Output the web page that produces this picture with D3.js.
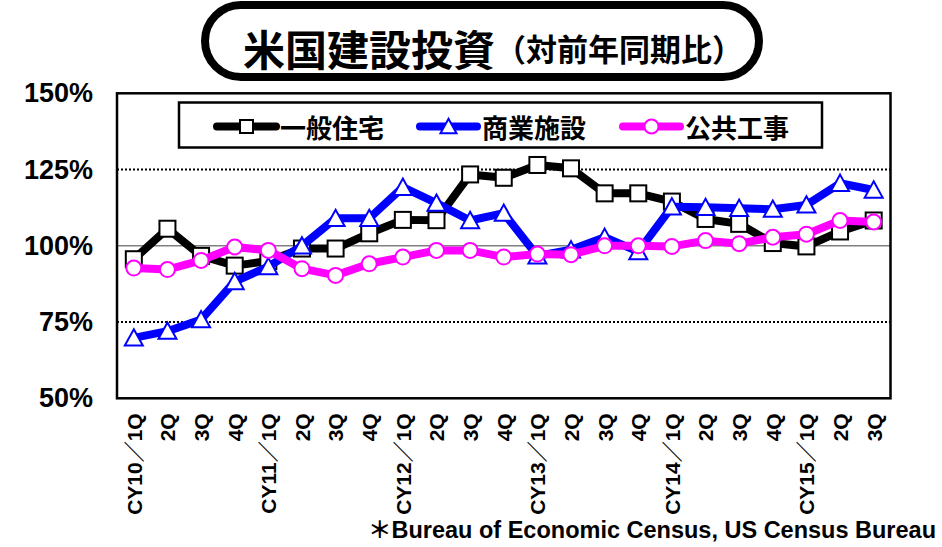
<!DOCTYPE html>
<html>
<head>
<meta charset="utf-8">
<script src="https://cdn.jsdelivr.net/npm/d3@7/dist/d3.min.js"></script>
<style>
  html, body { margin: 0; padding: 0; background: #fff; }
  svg { display: block; }
</style>
</head>
<body>
<svg id="chart" width="942" height="547"></svg>
<script>
// ---- data ----
const categories = ["CY10／1Q","2Q","3Q","4Q","CY11／1Q","2Q","3Q","4Q","CY12／1Q","2Q","3Q","4Q",
                    "CY13／1Q","2Q","3Q","4Q","CY14／1Q","2Q","3Q","4Q","CY15／1Q","2Q","3Q"];
const housing    = [95.6,105.6,96.7,93.5,95.0,99.1,99.1,104.1,108.5,108.4,123.4,122.3,
                    126.5,125.4,117.2,117.2,114.5,108.8,107.2,100.9,99.8,104.7,108.3];
const commercial = [69.8,72.0,75.8,88.3,93.2,100.0,109.0,109.0,119.2,114.0,108.3,110.7,
                    96.7,98.7,102.8,98.1,112.8,112.6,112.3,112.0,113.4,120.5,118.3];
const publicWorks= [92.7,92.2,95.2,99.6,98.5,92.5,90.3,94.1,96.3,98.5,98.5,96.3,
                    97.3,97.1,100.0,100.0,99.8,101.7,100.7,102.8,103.8,108.3,107.8];
const seriesNames = ["一般住宅","商業施設","公共工事"];
const yTicks = [50,75,100,125,150];
const titleMain = "米国建設投資";
const titleSub = "（対前年同期比）";
const footnote = "＊Bureau of Economic Census, US Census Bureau";

// ---- layout ----
const svg = d3.select("#chart");
const L = 117, R = 890.5, T = 93.3, B = 398.3;
const x = d3.scalePoint().domain(d3.range(categories.length)).range([L, R]).padding(0.5);
const y = d3.scaleLinear().domain([50,150]).range([B, T]);

const jp = "'Noto Sans CJK JP', 'Liberation Sans', sans-serif";
const lat = "'Liberation Sans', 'Noto Sans CJK JP', sans-serif";

// ---- title ----
svg.append("rect").attr("x",205).attr("y",5).attr("width",554).attr("height",72)
  .attr("rx",36).attr("ry",36).attr("fill","#fff").attr("stroke","#000").attr("stroke-width",8);
const tt = svg.append("text").attr("x",243).attr("y",47).attr("dominant-baseline","central")
  .attr("font-family", jp).attr("font-weight","bold").attr("fill","#000");
tt.append("tspan").attr("font-size",42).text(titleMain);
tt.append("tspan").attr("font-size",31).text(titleSub);

// ---- gridlines ----
svg.append("line").attr("x1",L).attr("x2",R).attr("y1",y(100)).attr("y2",y(100))
  .attr("stroke","#808080").attr("stroke-width",1.5);
[75,125].forEach(v => {
  svg.append("line").attr("x1",L).attr("x2",R).attr("y1",y(v)).attr("y2",y(v))
    .attr("stroke","#000").attr("stroke-width",2).attr("stroke-dasharray","2,2");
});

// ---- axes ----
const yAxis = svg.append("g").attr("transform",`translate(${L},0)`)
  .call(d3.axisLeft(y).tickValues(yTicks).tickFormat(d => d + "%").tickSize(0).tickPadding(24));
yAxis.select(".domain").remove();
yAxis.selectAll("text").attr("font-family", lat).attr("font-weight","bold")
  .attr("font-size",27).attr("fill","#000");

const xAxis = svg.append("g").attr("transform",`translate(0,${B})`)
  .call(d3.axisBottom(x).tickFormat(i => categories[i]).tickSize(0));
xAxis.select(".domain").remove();
xAxis.selectAll("text")
  .attr("font-family", lat).attr("font-weight","bold").attr("font-size",21).attr("fill","#000")
  .attr("transform","rotate(-90)").attr("text-anchor","end")
  .attr("x",-15).attr("y",0).attr("dy","0.35em");

// ---- frame ----
svg.append("rect").attr("x",L).attr("y",T).attr("width",R-L).attr("height",B-T)
  .attr("fill","none").attr("stroke","#000").attr("stroke-width",2.5);

// ---- series ----
const series = [
  {name: seriesNames[0], values: housing, color: "#000000", marker: "square"},
  {name: seriesNames[1], values: commercial, color: "#0000FF", marker: "triangle"},
  {name: seriesNames[2], values: publicWorks, color: "#FF00FF", marker: "circle"}
];
const line = d3.line().x((d,i) => x(i)).y(d => y(d));

function drawMarker(g, type, color, cx, cy, s) {
  if (type === "square") {
    g.append("rect").attr("x",cx - s/2).attr("y",cy - s/2).attr("width",s).attr("height",s)
      .attr("fill","#fff").attr("stroke",color).attr("stroke-width",2);
  } else if (type === "triangle") {
    const h = s * 0.9;
    g.append("path").attr("d",`M${cx},${cy - h/2 - 1} L${cx + s/2 + 0.5},${cy + h/2} L${cx - s/2 - 0.5},${cy + h/2} Z`)
      .attr("fill","#fff").attr("stroke",color).attr("stroke-width",2).attr("stroke-linejoin","miter");
  } else {
    g.append("circle").attr("cx",cx).attr("cy",cy).attr("r",s/2)
      .attr("fill","#fff").attr("stroke",color).attr("stroke-width",2);
  }
}

series.forEach(s => {
  const g = svg.append("g");
  g.append("path").datum(s.values).attr("d", line).attr("fill","none")
    .attr("stroke", s.color).attr("stroke-width", 8).attr("stroke-linejoin","round");
  s.values.forEach((v,i) => drawMarker(g, s.marker, s.color, x(i), y(v),
    s.marker === "square" ? 16 : (s.marker === "triangle" ? 17 : 15)));
});

// ---- legend ----
svg.append("rect").attr("x",179).attr("y",102.5).attr("width",643).attr("height",45)
  .attr("fill","#fff").attr("stroke","#000").attr("stroke-width",2.5);
const legendPos = [{x0:217, x1:276, tx:280}, {x0:420, x1:477, tx:482}, {x0:623, x1:680, tx:685}];
series.forEach((s,k) => {
  const p = legendPos[k], ly = 126.5;
  const g = svg.append("g");
  g.append("line").attr("x1",p.x0).attr("x2",p.x1).attr("y1",ly).attr("y2",ly)
    .attr("stroke",s.color).attr("stroke-width",8).attr("stroke-linecap","round");
  drawMarker(g, s.marker, s.color, (p.x0 + p.x1)/2, ly, s.marker === "square" ? 13 : (s.marker === "triangle" ? 15 : 14));
  g.append("text").attr("x",p.tx).attr("y",ly).attr("dominant-baseline","central")
    .attr("font-family", jp).attr("font-weight","bold").attr("font-size",26).attr("fill","#000")
    .text(s.name);
});

// ---- footnote ----
svg.append("text").attr("x",368).attr("y",538)
  .attr("font-family","'Liberation Sans Narrow', 'Liberation Sans', 'Noto Sans CJK JP', sans-serif")
  .attr("font-weight","bold").attr("font-size",23).attr("fill","#000")
  .attr("textLength",568).attr("lengthAdjust","spacingAndGlyphs")
  .text(footnote);
</script>
</body>
</html>
